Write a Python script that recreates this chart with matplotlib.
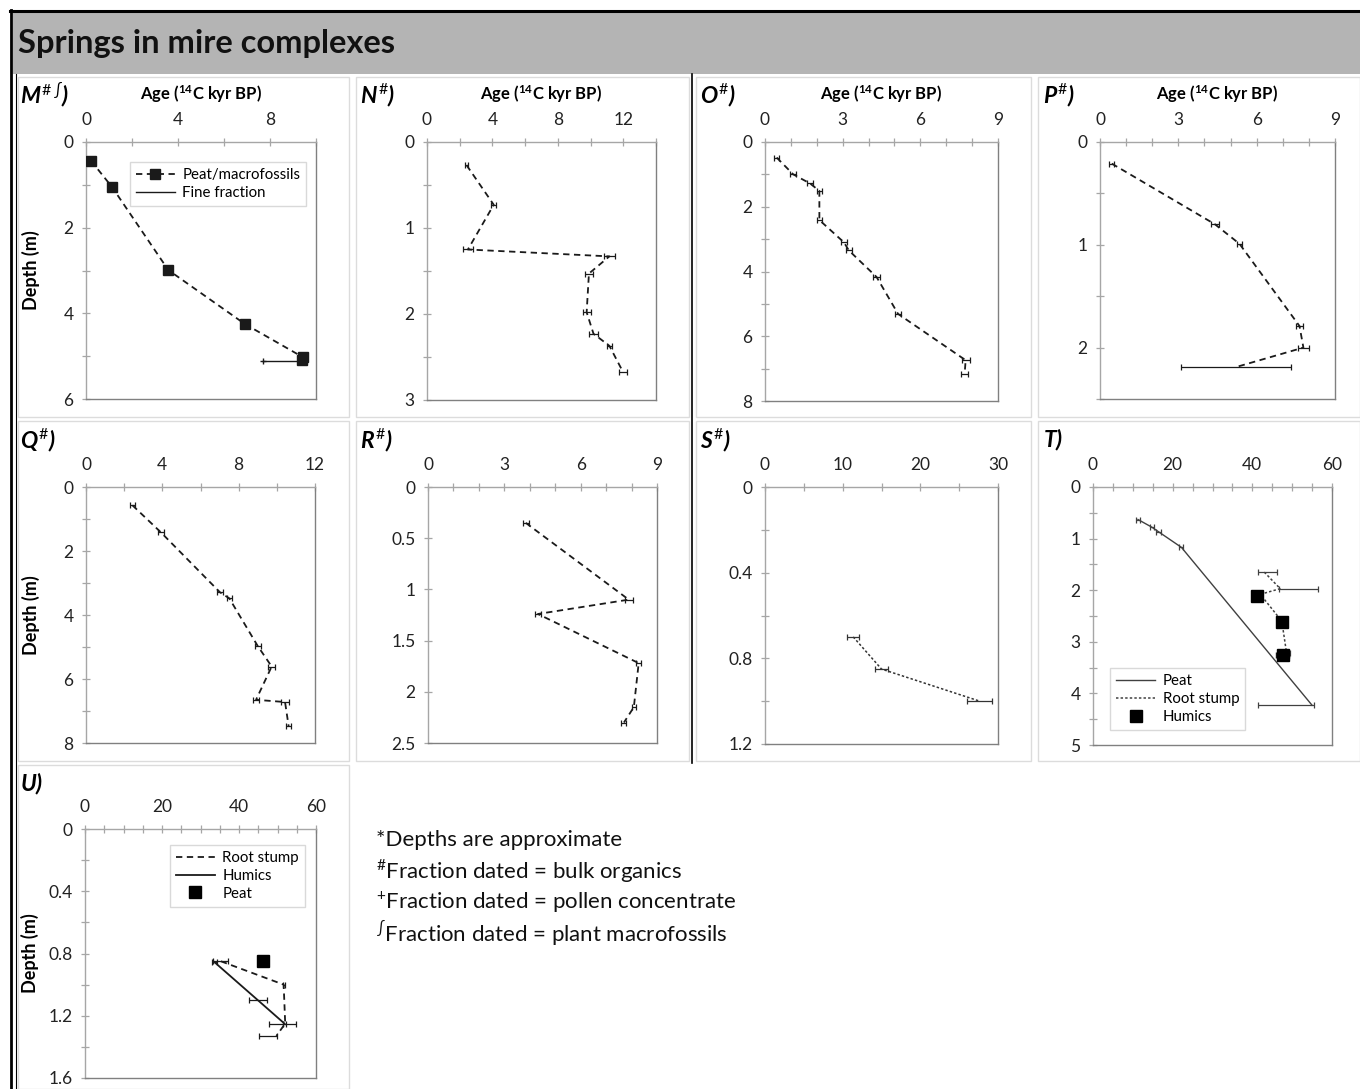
import matplotlib

matplotlib.use("Agg")
import matplotlib.pyplot as plt
from matplotlib.patches import Rectangle
from matplotlib.ticker import FuncFormatter, MultipleLocator

FIG_W, FIG_H = 1360, 1089

plt.rcParams["font.family"] = ["Lato", "DejaVu Sans"]
plt.rcParams["mathtext.fontset"] = "custom"
plt.rcParams["mathtext.rm"] = "Lato"
plt.rcParams["mathtext.it"] = "Lato:italic:bold"
plt.rcParams["mathtext.bf"] = "Lato:bold"

AGE_LABEL = r"Age ($^{\mathbf{14}}$C kyr BP)"
DEPTH_LABEL = "Depth (m)"

# panel M
m_peat_age = [0.22, 1.13, 3.58, 6.91, 9.45, 9.4]
m_peat_depth = [0.44, 1.05, 2.99, 4.25, 5.03, 5.1]
m_fine_age = [7.7, 9.4]
m_fine_depth = [5.11, 5.11]

# panel N
n_age = [2.42, 4.08, 2.5, 11.15, 9.9, 9.76, 10.18, 11.15, 12.0]
n_depth = [0.27, 0.73, 1.25, 1.33, 1.53, 1.98, 2.23, 2.37, 2.68]
n_err = [0.1, 0.15, 0.3, 0.35, 0.25, 0.25, 0.3, 0.15, 0.25]

# panel O
o_age = [0.45, 1.09, 1.74, 2.1, 2.1, 3.05, 3.24, 4.31, 5.14, 7.75, 7.71]
o_depth = [0.48, 1.0, 1.28, 1.51, 2.41, 3.1, 3.35, 4.17, 5.31, 6.74, 7.18]
o_err = [0.1, 0.12, 0.12, 0.1, 0.1, 0.12, 0.12, 0.15, 0.12, 0.15, 0.15]

# panel P
p_age = [0.45, 4.4, 5.34, 7.64, 7.79, 5.2]
p_depth = [0.21, 0.8, 0.99, 1.79, 2.0, 2.19]
p_err = [0.1, 0.15, 0.1, 0.12, 0.2, 2.1]

# panel Q
q_age = [2.43, 3.93, 7.02, 7.51, 9.0, 9.73, 8.91, 10.43, 10.62]
q_depth = [0.57, 1.42, 3.29, 3.48, 4.97, 5.61, 6.65, 6.72, 7.48]
q_err = [0.15, 0.15, 0.15, 0.12, 0.15, 0.2, 0.15, 0.2, 0.12]

# panel R
r_age = [3.84, 7.89, 4.32, 8.28, 8.09, 7.7]
r_depth = [0.35, 1.10, 1.24, 1.72, 2.15, 2.30]
r_err = [0.12, 0.15, 0.12, 0.1, 0.08, 0.1]

# panel S
s_age = [11.36, 15.0, 27.65]
s_depth = [0.70, 0.85, 1.0]
s_err = [0.8, 0.8, 1.6]

# panel T
t_peat_age = [11.3, 14.8, 16.5, 22.2, 55.0]
t_peat_depth = [0.63, 0.78, 0.87, 1.17, 4.23]
t_peat_err_lo = [0.5, 0.5, 0.6, 0.5, 13.7]
t_peat_err_hi = [0.5, 0.5, 0.6, 0.5, 0.5]
t_root_age = [43.0, 47.0, 42.0, 47.4, 48.6]
t_root_depth = [1.65, 1.97, 2.08, 2.6, 3.22]
t_root_err_lo = [1.7, 0.3, 0.5, 0.5, 0.5]
t_root_err_hi = [3.1, 9.6, 0.5, 0.5, 0.9]
t_humic_age = [41.1, 47.4, 47.6]
t_humic_depth = [2.11, 2.61, 3.26]
t_humic_err = [1.0, 0.4, 1.6]

# panel U
u_root_age = [35.3, 51.6, 52.0, 49.7]
u_root_depth = [0.85, 1.0, 1.25, 1.33]
u_root_err_lo = [2.1, 0.3, 4.1, 4.6]
u_root_err_hi = [1.8, 0.3, 2.8, 0.2]
u_humic_age = [33.6, 44.9, 51.8]
u_humic_depth = [0.855, 1.1, 1.25]
u_humic_err = [0.6, 2.4, 0.5]
u_peat_age = [46.3]
u_peat_depth = [0.85]

FOOTNOTES = [
    "*Depths are approximate",
    r"$^{\#}$Fraction dated = bulk organics",
    r"$^{+}$Fraction dated = pollen concentrate",
    r"$^{\int}$Fraction dated = plant macrofossils",
]

AXIS_GREY = "#a6a6a6"
FRAME_GREY = "#808080"
INK = "#1a1a1a"
DASH = (0, (3.5, 2.5))
DOT = (0, (1.6, 1.4))


def add_axes_px(fig, x0, y0, x1, y1):
    return fig.add_axes([x0 / FIG_W, 1 - y1 / FIG_H, (x1 - x0) / FIG_W, (y1 - y0) / FIG_H])


def style_axes(ax, xmax, xmajor, xminor, ymax, ymajor, yminor, age_label=True, depth_label=False):
    ax.set_xlim(0, xmax)
    ax.set_ylim(ymax, 0)
    ax.xaxis.tick_top()
    ax.xaxis.set_major_locator(MultipleLocator(xmajor))
    ax.xaxis.set_minor_locator(MultipleLocator(xminor))
    ax.yaxis.set_major_locator(MultipleLocator(ymajor))
    if yminor:
        ax.yaxis.set_minor_locator(MultipleLocator(yminor))
    fmt = FuncFormatter(lambda v, pos: f"{v:g}")
    ax.xaxis.set_major_formatter(fmt)
    ax.yaxis.set_major_formatter(fmt)
    for side in ("top", "left"):
        ax.spines[side].set_color(AXIS_GREY)
        ax.spines[side].set_linewidth(1.0)
    for side in ("right", "bottom"):
        ax.spines[side].set_color(FRAME_GREY)
        ax.spines[side].set_linewidth(1.0)
    ax.tick_params(which="both", direction="inout", length=6, width=0.9, color=AXIS_GREY,
                   labelsize=12.5, labelcolor="#222222")
    ax.tick_params(axis="x", which="both", pad=7)
    ax.tick_params(axis="y", which="both", pad=6)
    if age_label:
        ax.xaxis.set_label_position("top")
        ax.set_xlabel(AGE_LABEL, fontsize=12, fontweight="bold", labelpad=9)
    if depth_label:
        ax.set_ylabel(DEPTH_LABEL, fontsize=13, fontweight="bold")
        ax.yaxis.set_label_coords(-0.2, 0.5)


def dated_series(ax, age, depth, err, linestyle=DASH, color=INK, lw=1.3):
    ax.errorbar(age, depth, xerr=err, fmt="none", ecolor=color, elinewidth=0.9,
                capsize=2.5, capthick=0.9, zorder=3)
    line, = ax.plot(age, depth, linestyle=linestyle, color=color, linewidth=lw, zorder=4)
    return line


def legend(ax, handles, labels, **kw):
    leg = ax.legend(handles, labels, frameon=True, fancybox=False, fontsize=10.8,
                    handlelength=2.6, borderpad=0.4, labelspacing=0.25, handletextpad=0.5,
                    **kw)
    leg.get_frame().set_edgecolor("#d0d0d0")
    leg.get_frame().set_linewidth(1.0)
    return leg


fig = plt.figure(figsize=(FIG_W / 100, FIG_H / 100), dpi=100)

bg = fig.add_axes([0, 0, 1, 1], zorder=-5)
bg.set_xlim(0, FIG_W)
bg.set_ylim(FIG_H, 0)
bg.axis("off")
bg.add_patch(Rectangle((13, 12), FIG_W - 13, 62, facecolor="#b4b4b4", edgecolor="none"))
bg.plot([10, FIG_W], [10.5, 10.5], color="black", linewidth=2.2)
bg.plot([11.3, 11.3], [10, FIG_H], color="black", linewidth=2.0)
bg.plot([15.5, 15.5], [74, FIG_H], color="black", linewidth=0.8)
bg.plot([692, 692], [74, 763], color="black", linewidth=1.2)
bg.text(18, 43, "Springs in mire complexes", fontsize=23.5, fontweight="bold", va="center",
        color="#111111")

panel_boxes = [
    (18, 77, 349, 417), (356, 77, 689, 417), (696, 77, 1031, 417), (1038, 77, 1360, 417),
    (18, 421, 349, 761), (356, 421, 689, 761), (696, 421, 1031, 761), (1038, 421, 1360, 761),
    (18, 765, 349, 1089),
]
for x0, y0, x1, y1 in panel_boxes:
    bg.add_patch(Rectangle((x0, y0), x1 - x0, y1 - y0, facecolor="none",
                           edgecolor="#dcdcdc", linewidth=1.0))

panel_labels = [
    (20, 95, r"$M^{\#\,\int}$)"), (360, 95, r"$N^{\#}$)"), (700, 95, r"$O^{\#}$)"),
    (1043, 95, r"$P^{\#}$)"), (20, 440, r"$Q^{\#}$)"), (360, 440, r"$R^{\#}$)"),
    (700, 440, r"$S^{\#}$)"), (1043, 440, r"$T$)"), (20, 784, r"$U$)"),
]
for x, y, text in panel_labels:
    bg.text(x, y, text, fontsize=16.5, fontweight="bold", fontstyle="italic", va="center")

for i, note in enumerate(FOOTNOTES):
    bg.text(376, 840 + i * 31, note, fontsize=16, va="center", color="#111111")

# M
ax = add_axes_px(fig, 86, 142, 316, 399)
style_axes(ax, 10, 4, 2, 6, 2, 1, depth_label=True)
peat, = ax.plot(m_peat_age, m_peat_depth, linestyle=DASH, color=INK, linewidth=1.3,
                marker="s", markersize=7.5, zorder=4)
fine, = ax.plot(m_fine_age, m_fine_depth, color=INK, linewidth=1.0, zorder=3)
ax.plot(m_fine_age[:1], m_fine_depth[:1], linestyle="none", marker="+", markersize=5,
        color=INK)
legend(ax, [peat, fine], ["Peat/macrofossils", "Fine fraction"], loc="upper right",
       bbox_to_anchor=(0.99, 0.95))

# N
ax = add_axes_px(fig, 427, 142, 656, 400)
style_axes(ax, 14, 4, 2, 3, 1, 0.5)
dated_series(ax, n_age, n_depth, n_err)

# O
ax = add_axes_px(fig, 765, 142, 998, 401)
style_axes(ax, 9, 3, 1, 8, 2, 1)
dated_series(ax, o_age, o_depth, o_err)

# P
ax = add_axes_px(fig, 1100, 142, 1335, 399)
style_axes(ax, 9, 3, 1, 2.5, 1, 0.5)
dated_series(ax, p_age, p_depth, p_err)

# Q
ax = add_axes_px(fig, 86, 487, 315, 743)
style_axes(ax, 12, 4, 2, 8, 2, 1, age_label=False, depth_label=True)
dated_series(ax, q_age, q_depth, q_err)

# R
ax = add_axes_px(fig, 428, 487, 657, 743)
style_axes(ax, 9, 3, 1, 2.5, 0.5, None, age_label=False)
dated_series(ax, r_age, r_depth, r_err)

# S
ax = add_axes_px(fig, 765, 487, 998, 744)
style_axes(ax, 30, 10, 5, 1.2, 0.4, 0.2, age_label=False)
dated_series(ax, s_age, s_depth, s_err, linestyle=DOT, color="#333333", lw=1.1)

# T
ax = add_axes_px(fig, 1093, 487, 1332, 745)
style_axes(ax, 60, 20, 5, 5, 1, 0.5, age_label=False)
t_peat = dated_series(ax, t_peat_age, t_peat_depth, [t_peat_err_lo, t_peat_err_hi],
                      linestyle="-", color="#404040", lw=1.0)
t_root = dated_series(ax, t_root_age, t_root_depth, [t_root_err_lo, t_root_err_hi],
                      linestyle=DOT, color="#404040", lw=1.1)
ax.errorbar(t_humic_age, t_humic_depth, xerr=t_humic_err, fmt="none", ecolor=INK,
            elinewidth=0.9, capsize=2.5, zorder=3)
t_humic, = ax.plot(t_humic_age, t_humic_depth, linestyle="none", marker="s", markersize=8,
                   color="black", zorder=5)
legend(ax, [t_peat, t_root, t_humic], ["Peat", "Root stump", "Humics"], loc="lower left",
       bbox_to_anchor=(0.04, 0.03))

# U
ax = add_axes_px(fig, 85, 829, 316, 1078)
style_axes(ax, 60, 20, 5, 1.6, 0.4, 0.2, age_label=False, depth_label=True)
ax.yaxis.set_label_coords(-0.2, 0.5)
u_root = dated_series(ax, u_root_age, u_root_depth, [u_root_err_lo, u_root_err_hi])
u_humic = dated_series(ax, u_humic_age, u_humic_depth, u_humic_err, linestyle="-", lw=1.3)
u_peat, = ax.plot(u_peat_age, u_peat_depth, linestyle="none", marker="s", markersize=8,
                  color="black", zorder=5)
legend(ax, [u_root, u_humic, u_peat], ["Root stump", "Humics", "Peat"], loc="upper right",
       bbox_to_anchor=(0.985, 0.965))

fig.savefig("out.png", dpi=100)
